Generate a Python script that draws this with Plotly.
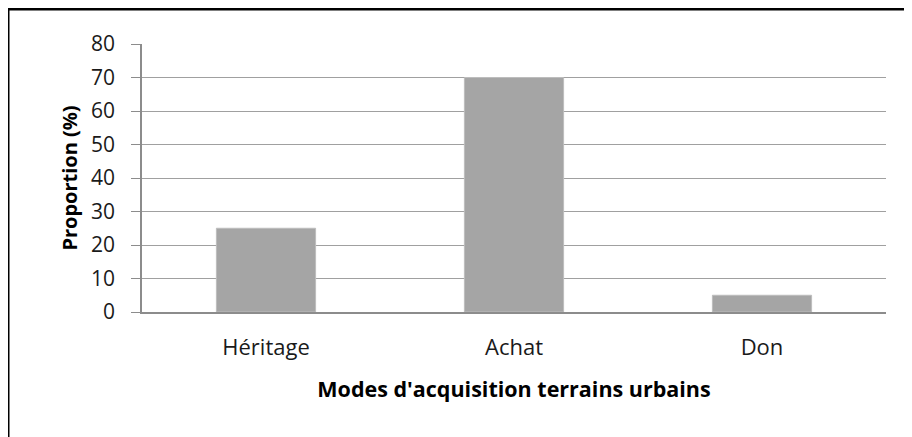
import plotly.graph_objects as go

categories = ["Héritage", "Achat", "Don"]
proportions = [25, 70, 5]
y_ticks = [0, 10, 20, 30, 40, 50, 60, 70, 80]

# page body has an 8px margin, so the figure is laid out in shifted coordinates
W, H = 904, 429
L, R, T, B = 134, 26, 36, 125
pw, ph = W - L - R, H - T - B

def px_x(x):
    return (x - L) / pw

def px_y(y):
    return (H - B - y) / ph

FONT = "Open Sans"

fig = go.Figure(
    go.Bar(
        x=categories,
        y=proportions,
        marker=dict(color="#A5A5A5", line=dict(color="#BDBDBD", width=1)),
        width=0.4,
    )
)

fig.update_layout(
    width=W,
    height=H,
    margin=dict(l=L, r=R, t=T, b=B),
    paper_bgcolor="white",
    plot_bgcolor="white",
    showlegend=False,
    font=dict(family=FONT, color="#1a1a1a"),
    xaxis=dict(
        showgrid=False,
        showline=True,
        linecolor="#8C8C8C",
        linewidth=1.5,
        ticks="",
        ticklabelstandoff=15,
        tickfont=dict(size=22, family=FONT, color="#1a1a1a"),
        title=dict(text="<b>Modes d'acquisition terrains urbains</b>",
                   font=dict(size=21.5, family=FONT, color="#000"), standoff=22),
    ),
    yaxis=dict(
        range=[0, 80],
        tickvals=y_ticks,
        showgrid=True,
        gridcolor="#A0A0A0",
        gridwidth=1.3,
        showline=True,
        linecolor="#8C8C8C",
        linewidth=1.5,
        ticks="outside",
        ticklen=9,
        tickcolor="#8C8C8C",
        ticklabelstandoff=12,
        tickfont=dict(size=21, family=FONT, color="#1a1a1a"),
        zeroline=False,
        title=dict(text="<b>Proportion (%)</b>",
                   font=dict(size=20, family=FONT, color="#000"), standoff=8),
    ),
    shapes=[
        dict(type="line", xref="paper", yref="paper",
             x0=px_x(-1), x1=px_x(W + 20), y0=px_y(1), y1=px_y(1),
             line=dict(color="black", width=3)),
        dict(type="line", xref="paper", yref="paper",
             x0=px_x(0), x1=px_x(0), y0=px_y(0), y1=px_y(H + 20),
             line=dict(color="black", width=3)),
    ],
)

fig.write_html("out.html")
